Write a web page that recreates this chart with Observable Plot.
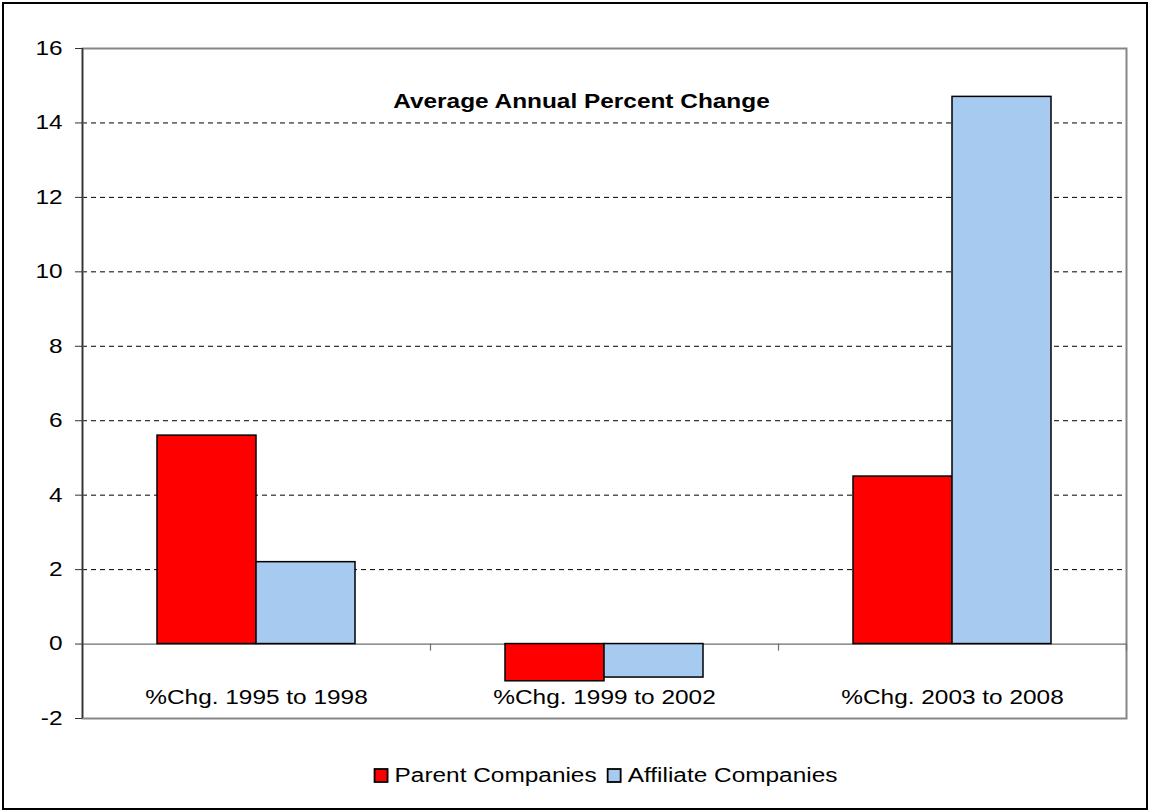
<!DOCTYPE html>
<html>
<head>
<meta charset="utf-8">
<script src="https://cdn.jsdelivr.net/npm/d3@7"></script>
<script src="https://cdn.jsdelivr.net/npm/@observablehq/plot@0.6"></script>
<style>
  html, body { margin: 0; padding: 0; background: #fff; }
  #wrap { position: relative; width: 1149px; height: 811px; overflow: hidden; font-family: "Liberation Sans", Arial, sans-serif; }
  #border { position: absolute; left: 2px; top: 2px; width: 1146px; height: 808px; box-sizing: border-box; border: 2px solid #000; pointer-events: none; }
  #chart { position: absolute; left: 0; top: 0; }
  #legend { position: absolute; left: 0; top: 755px; }
</style>
</head>
<body>
<div id="wrap">
  <div id="chart"></div>
  <svg id="legend" width="1149" height="40"></svg>
  <div id="border"></div>
</div>
<script>
const categories = ["%Chg. 1995 to 1998", "%Chg. 1999 to 2002", "%Chg. 2003 to 2008"];
const seriesNames = ["Parent Companies", "Affiliate Companies"];
const parentValues = [5.6, -1.0, 4.5];
const affiliateValues = [2.2, -0.9, 14.7];
const yTicks = [-2, 0, 2, 4, 6, 8, 10, 12, 14, 16];
const gridTicks = [2, 4, 6, 8, 10, 12, 14];
const chartTitle = "Average Annual Percent Change";
const colors = ["#ff0000", "#a6caf0"];

const parent = categories.map((c, i) => ({category: c, value: parentValues[i]}));
const affiliate = categories.map((c, i) => ({category: c, value: affiliateValues[i]}));

const STRETCH = 1.22;
const font = "Liberation Sans, Arial, sans-serif";
const chart = Plot.plot({
  width: 1149,
  height: 811,
  marginLeft: 82,
  marginRight: 23,
  marginTop: 48,
  marginBottom: 93,
  style: {fontFamily: font, fontSize: "20px", background: "transparent", color: "#000"},
  x: {domain: categories, padding: 0, axis: null},
  y: {domain: [-2, 16], axis: null},
  marks: [
    Plot.ruleY(gridTicks, {stroke: "#000", strokeWidth: 1, strokeDasharray: "5,4"}),
    Plot.frame({stroke: "#868686", strokeWidth: 2}),
    Plot.ruleY([0], {stroke: "#6e6e6e", strokeWidth: 1.2}),
    Plot.ruleX(categories, {x: d => d, dx: 174, y1: 0, y2: 0, insetBottom: -7, stroke: "#6e6e6e", strokeWidth: 1.2}),
    Plot.barY(parent, {x: "category", y: "value", fill: colors[0], stroke: "#000", strokeWidth: 1.5, insetLeft: 75, insetRight: 174}),
    Plot.barY(affiliate, {x: "category", y: "value", fill: colors[1], stroke: "#000", strokeWidth: 1.5, insetLeft: 174, insetRight: 75}),
    Plot.ruleX(categories.slice(0, 1), {x: d => d, dx: -174, y1: -2, y2: 16, stroke: "#333", strokeWidth: 1.5}),
    Plot.axisY({ticks: yTicks, tickSize: 7, tickPadding: 13, tickFormat: d => String(d), fontSize: 20, stroke: "#333", anchor: "left", label: null}),
    Plot.text(categories, {x: d => d, frameAnchor: "bottom", dy: -21, lineAnchor: "middle", fontSize: 20, fill: "#000"}),
    Plot.text([chartTitle], {x: () => categories[1], frameAnchor: "top", dx: -23, dy: 53, text: d => d, fontSize: 20, fontWeight: "bold", fill: "#000", lineAnchor: "middle"})
  ]
});
document.getElementById("chart").appendChild(chart);

function stretchText(root) {
  root.querySelectorAll("text").forEach(el => {
    const w = el.getComputedTextLength();
    if (w > 0) {
      el.setAttribute("textLength", (w * STRETCH).toFixed(2));
      el.setAttribute("lengthAdjust", "spacingAndGlyphs");
    }
  });
}
stretchText(chart);

// Legend
const lg = d3.select("#legend");
const cy = 20;
const textOffset = 21;
const gap = 10;
const items = seriesNames.map((name, i) => {
  const g = lg.append("g");
  g.append("rect").attr("x", 1).attr("width", 13).attr("height", 13).attr("y", cy - 6)
    .attr("fill", colors[i]).attr("stroke", "#000").attr("stroke-width", 1.8);
  const t = g.append("text").attr("x", textOffset).attr("y", cy).attr("dy", "0.35em")
    .attr("font-family", font).attr("font-size", 20).attr("fill", "#000").text(name);
  return {g, t};
});
const widths = items.map(({t}) => textOffset + t.node().getComputedTextLength() * STRETCH);
stretchText(document.getElementById("legend"));
const total = widths.reduce((a, b) => a + b, 0) + gap * (items.length - 1);
let x0 = 605.5 - total / 2;
items.forEach(({g}, i) => {
  g.attr("transform", `translate(${x0},0)`);
  x0 += widths[i] + gap;
});
</script>
</body>
</html>
